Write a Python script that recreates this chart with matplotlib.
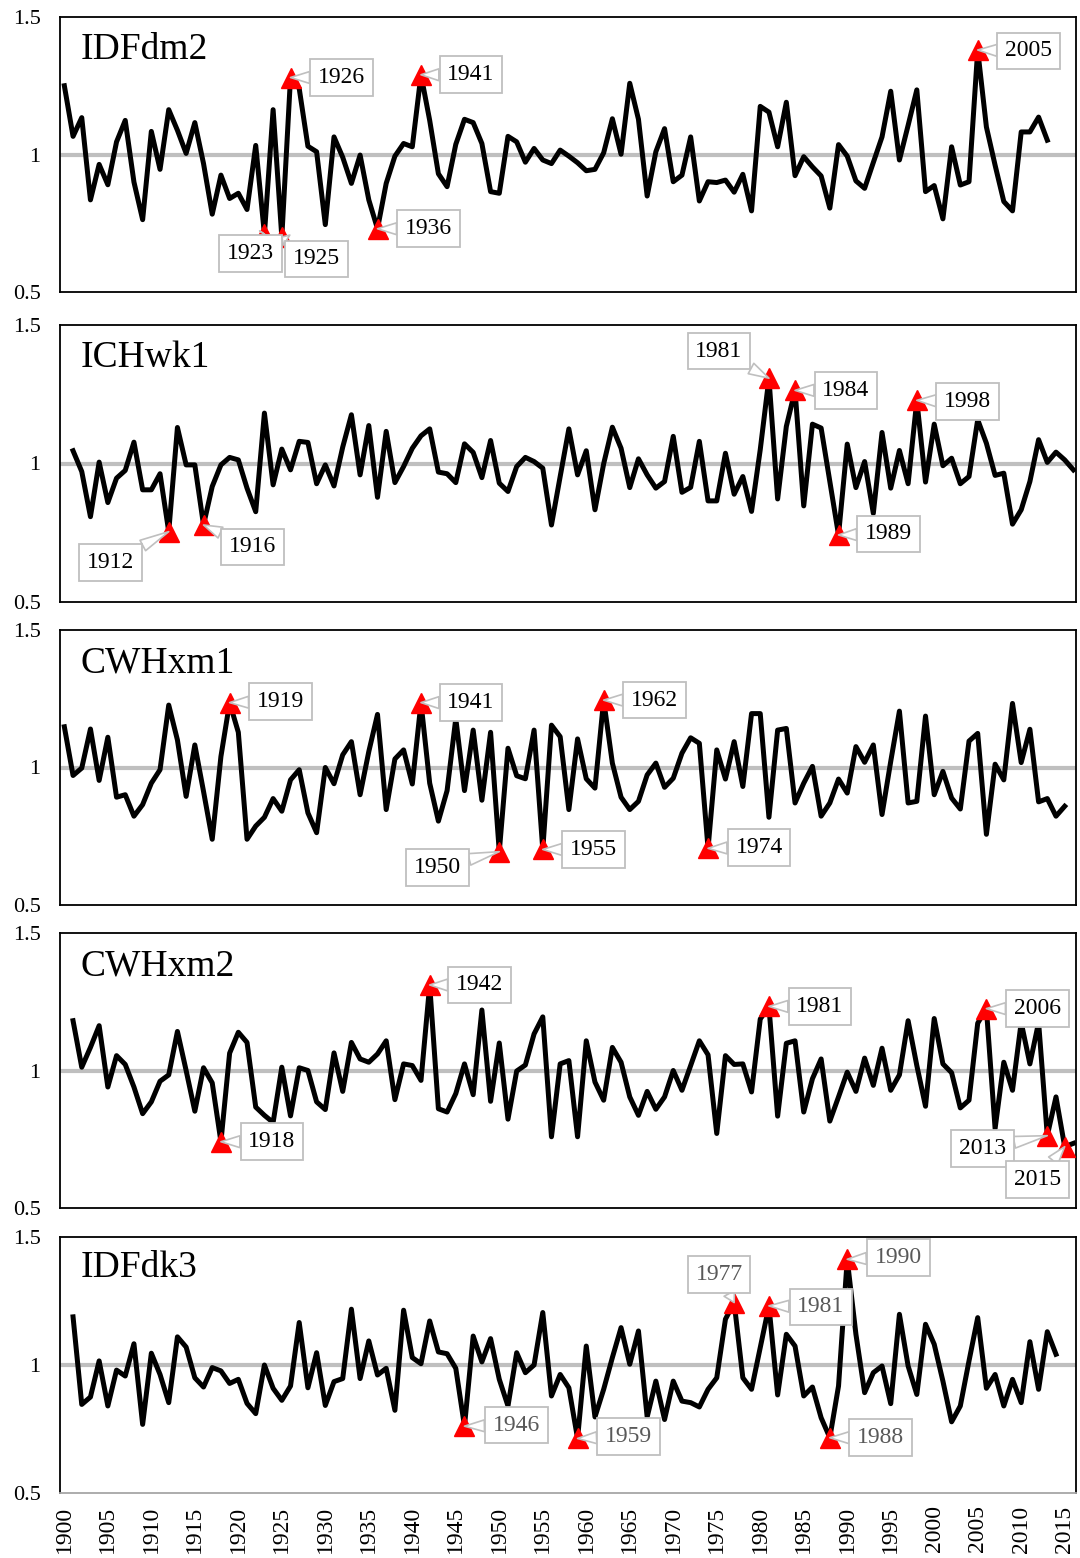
import numpy as np
import matplotlib.pyplot as plt

plt.rcParams['font.family'] = ['Liberation Serif', 'DejaVu Serif']

# index values read per year
idfdm2_start = 1900
idfdm2 = [1.25, 1.066, 1.134, 0.835, 0.964, 0.89, 1.046, 1.124, 0.90, 0.763,
          1.084, 0.946, 1.163, 1.088, 1.004, 1.116, 0.967, 0.783, 0.925, 0.84,
          0.859, 0.80, 1.033, 0.71, 1.163, 0.70, 1.28, 1.24, 1.03, 1.01,
          0.745, 1.064, 0.99, 0.895, 0.998, 0.835, 0.73, 0.895, 0.994, 1.04,
          1.028, 1.29, 1.124, 0.93, 0.883, 1.037, 1.128, 1.116, 1.04, 0.865,
          0.859, 1.066, 1.046, 0.972, 1.022, 0.980, 0.967, 1.016, 0.994, 0.970,
          0.941, 0.946, 1.006, 1.130, 1.001, 1.259, 1.128, 0.849, 1.010, 1.094,
          0.901, 0.925, 1.064, 0.831, 0.901, 0.898, 0.907, 0.863, 0.928, 0.795,
          1.175, 1.154, 1.028, 1.190, 0.923, 0.992, 0.955, 0.922, 0.805, 1.036,
          0.994, 0.904, 0.877, 0.971, 1.064, 1.230, 0.980, 1.106, 1.235, 0.865,
          0.887, 0.766, 1.028, 0.889, 0.901, 1.38, 1.100, 0.961, 0.829, 0.795,
          1.082, 1.082, 1.136, 1.052]

ichwk1_start = 1901
ichwk1 = [1.046, 0.971, 0.808, 1.005, 0.859, 0.947, 0.975, 1.077, 0.905,
          0.905, 0.963, 0.754, 1.130, 0.995, 0.995, 0.778, 0.917, 0.995, 1.022,
          1.013, 0.911, 0.826, 1.182, 0.923, 1.052, 0.977, 1.080, 1.076, 0.927,
          0.995, 0.919, 1.059, 1.176, 0.959, 1.137, 0.878, 1.116, 0.931, 0.989,
          1.055, 1.100, 1.125, 0.969, 0.963, 0.931, 1.071, 1.040, 0.949, 1.083,
          0.929, 0.899, 0.989, 1.022, 1.007, 0.983, 0.778, 0.953, 1.125, 0.959,
          1.046, 0.833, 0.999, 1.131, 1.055, 0.913, 1.017, 0.959, 0.911, 0.935,
          1.098, 0.896, 0.914, 1.080, 0.865, 0.865, 1.037, 0.889, 0.953, 0.827,
          1.05, 1.308, 0.872, 1.134, 1.264, 0.847, 1.142, 1.128, 0.935, 0.742,
          1.070, 0.913, 1.007, 0.820, 1.112, 0.911, 1.047, 0.927, 1.228, 0.933,
          1.142, 0.992, 1.019, 0.927, 0.953, 1.158, 1.073, 0.957, 0.965, 0.781,
          0.833, 0.935, 1.086, 1.004, 1.041, 1.013, 0.977]

cwhxm1_start = 1900
cwhxm1 = [1.148, 0.971, 0.998, 1.140, 0.953, 1.110, 0.892, 0.901, 0.823, 0.865,
          0.943, 0.992, 1.227, 1.100, 0.895, 1.082, 0.913, 0.739, 1.040, 1.236,
          1.128, 0.739, 0.787, 0.819, 0.887, 0.841, 0.955, 0.992, 0.835, 0.763,
          1.000, 0.941, 1.046, 1.094, 0.901, 1.058, 1.193, 0.847, 1.031, 1.064,
          0.940, 1.236, 0.943, 0.805, 0.916, 1.178, 0.916, 1.136, 0.881, 1.128,
          0.694, 1.070, 0.970, 0.959, 1.136, 0.702, 1.154, 1.112, 0.847, 1.104,
          0.959, 0.925, 1.245, 1.016, 0.892, 0.847, 0.877, 0.973, 1.016, 0.928,
          0.961, 1.052, 1.108, 1.088, 0.706, 1.064, 0.958, 1.094, 0.931, 1.196,
          1.196, 0.819, 1.136, 1.142, 0.871, 0.943, 1.004, 0.823, 0.871, 0.958,
          0.907, 1.076, 1.019, 1.082, 0.829, 1.022, 1.205, 0.871, 0.877, 1.187,
          0.901, 0.986, 0.889, 0.849, 1.096, 1.124, 0.757, 1.012, 0.955, 1.233,
          1.018, 1.139, 0.875, 0.887, 0.823, 0.859]

cwhxm2_start = 1901
cwhxm2 = [1.181, 1.012, 1.084, 1.163, 0.940, 1.054, 1.022, 0.940, 0.843,
          0.886, 0.961, 0.984, 1.142, 1.000, 0.852, 1.010, 0.955, 0.741, 1.063,
          1.139, 1.102, 0.867, 0.837, 0.811, 1.012, 0.835, 1.010, 1.000, 0.886,
          0.858, 1.064, 0.924, 1.102, 1.042, 1.030, 1.060, 1.108, 0.894, 1.024,
          1.018, 0.964, 1.311, 0.861, 0.849, 0.916, 1.024, 0.912, 1.220, 0.888,
          1.100, 0.823, 0.998, 1.020, 1.133, 1.195, 0.759, 1.024, 1.036, 0.759,
          1.108, 0.958, 0.892, 1.084, 1.030, 0.904, 0.837, 0.924, 0.859, 0.904,
          1.000, 0.928, 1.018, 1.108, 1.057, 0.771, 1.054, 1.022, 1.024, 0.922,
          1.187, 1.233, 0.834, 1.099, 1.108, 0.849, 0.970, 1.042, 0.816, 0.904,
          0.994, 0.924, 1.045, 0.946, 1.081, 0.928, 0.984, 1.181, 1.018, 0.870,
          1.189, 1.024, 0.992, 0.864, 0.892, 1.172, 1.225, 0.789, 1.030, 0.928,
          1.175, 1.024, 1.175, 0.763, 0.904, 0.723, 0.735]

idfdk3_start = 1901
idfdk3 = [1.188, 0.846, 0.875, 1.016, 0.840, 0.980, 0.957, 1.083, 0.768,
          1.046, 0.963, 0.853, 1.110, 1.070, 0.950, 0.914, 0.990, 0.977, 0.928,
          0.944, 0.850, 0.810, 1.000, 0.909, 0.862, 0.918, 1.166, 0.911, 1.048,
          0.842, 0.935, 0.947, 1.218, 0.947, 1.094, 0.961, 0.987, 0.823, 1.214,
          1.029, 1.005, 1.172, 1.051, 1.044, 0.987, 0.761, 1.113, 1.012, 1.103,
          0.944, 0.840, 1.048, 0.970, 1.000, 1.205, 0.879, 0.963, 0.911, 0.713,
          1.074, 0.797, 0.905, 1.029, 1.146, 1.003, 1.133, 0.797, 0.937, 0.787,
          0.937, 0.859, 0.853, 0.836, 0.905, 0.950, 1.179, 1.244, 0.950, 0.905,
          1.068, 1.231, 0.883, 1.120, 1.074, 0.879, 0.914, 0.794, 0.716, 0.918,
          1.413, 1.120, 0.892, 0.970, 0.996, 0.849, 1.198, 0.996, 0.885, 1.159,
          1.081, 0.937, 0.778, 0.840, 1.016, 1.185, 0.909, 0.963, 0.840, 0.944,
          0.853, 1.091, 0.905, 1.130, 1.042]

# flagged years per series
idfdm2_marks = [1923, 1925, 1926, 1936, 1941, 2005]
ichwk1_marks = [1912, 1916, 1981, 1984, 1989, 1998]
cwhxm1_marks = [1919, 1941, 1950, 1955, 1962, 1974]
cwhxm2_marks = [1918, 1942, 1981, 2006, 2013, 2015]
idfdk3_marks = [1946, 1959, 1977, 1981, 1988, 1990]

names = ['IDFdm2', 'ICHwk1', 'CWHxm1', 'CWHxm2', 'IDFdk3']
starts = [idfdm2_start, ichwk1_start, cwhxm1_start, cwhxm2_start, idfdk3_start]
series = [idfdm2, ichwk1, cwhxm1, cwhxm2, idfdk3]
marks = [idfdm2_marks, ichwk1_marks, cwhxm1_marks, cwhxm2_marks, idfdk3_marks]
xtick_years = list(range(1900, 2016, 5))

# label box offsets (pixels) from the marker
label_off = [
    {1923: (-14, -19), 1925: (35, -22), 1926: (51, 0), 1936: (51, 0), 1941: (50, 0), 2005: (51, -1)},
    {1912: (-58, -31), 1916: (49, -22), 1981: (-50, 27), 1984: (51, 0), 1989: (50, 1), 1998: (51, -1)},
    {1919: (51, 1), 1941: (50, 0), 1950: (-62, -16), 1955: (51, 0), 1962: (51, 0), 1974: (51, 1)},
    {1918: (51, 0), 1942: (50, 0), 1981: (51, 0), 2006: (51, 0), 2013: (-65, -13), 2015: (-27, -33)},
    {1946: (52, 1), 1959: (51, 2), 1977: (-15, 28), 1981: (52, -1), 1988: (51, 0), 1990: (51, 2)},
]

W, H = 1080, 1558
fig = plt.figure(figsize=(W / 100, H / 100), dpi=100)
frames = [(17, 292), (325, 602), (630, 905), (933, 1208), (1237, 1493)]
left, right = 60, 1076

for i in range(5):
    top, bot = frames[i]
    ax = fig.add_axes([left / W, 1 - bot / H, (right - left) / W, (bot - top) / H])
    vals = series[i]
    yrs = np.arange(starts[i], starts[i] + len(vals))
    ax.axhline(1, color='#BFBFBF', lw=3, zorder=1)
    ax.plot(yrs, vals, color='black', lw=3.6, zorder=2)
    ax.set_xlim(1899.5, 2016.3)
    ax.set_ylim(0.5, 1.5)
    ax.set_yticks([0.5, 1, 1.5])
    ax.set_yticklabels(['0.5', '1', '1.5'])
    ax.tick_params(axis='y', length=0, pad=14, labelsize=16)
    for s in ax.spines.values():
        s.set_linewidth(1.3)
        s.set_color('black')
    if i == 4:
        ax.set_xticks(xtick_years)
        ax.set_xticklabels([str(y) for y in xtick_years], rotation=90)
        ax.tick_params(axis='x', length=0, pad=9, labelsize=17)
        ax.spines['bottom'].set_color('#A6A6A6')
        txt_col = '#595959'
    else:
        ax.set_xticks([])
        txt_col = 'black'

    ax.text(0.02, 0.88, names[i], transform=ax.transAxes, fontsize=27,
            ha='left', va='center')

    for yr in marks[i]:
        v = vals[yr - starts[i]]
        ax.plot(yr, v, marker='^', color='red', ms=14, ls='none', zorder=4)
        dx, dy = label_off[i][yr]
        ax.annotate(str(yr), (yr, v), xytext=(dx, dy), textcoords='offset pixels',
                    ha='center', va='center', fontsize=17, color=txt_col, zorder=5,
                    annotation_clip=False,
                    bbox=dict(boxstyle='square,pad=0.33', fc='white', ec='#BFBFBF', lw=1.3),
                    arrowprops=dict(arrowstyle='wedge,tail_width=0.5', fc='white',
                                    ec='#BFBFBF', lw=1.2, shrinkA=0, shrinkB=0))

fig.savefig('out.png', dpi=100)
